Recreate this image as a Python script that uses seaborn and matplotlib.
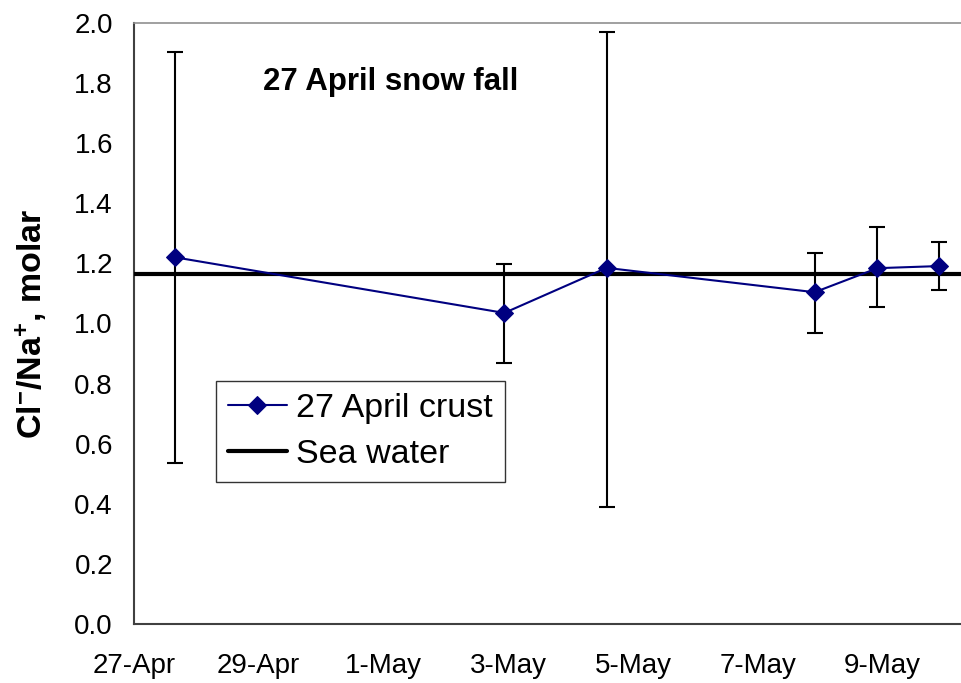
import numpy as np
import pandas as pd
import seaborn as sns
import matplotlib.pyplot as plt
import matplotlib.dates as mdates
from matplotlib.ticker import FuncFormatter

# sample times and Cl-/Na+ ratios
sample_times = ["2000-04-27 16:00", "2000-05-02 22:30", "2000-05-04 13:50",
                "2000-05-07 21:50", "2000-05-08 22:00", "2000-05-09 21:40"]
ratio = [1.22, 1.035, 1.185, 1.104, 1.184, 1.191]
err_upper = [1.903, 1.198, 1.971, 1.235, 1.320, 1.270]
err_lower = [0.535, 0.868, 0.390, 0.968, 1.054, 1.112]
sea_water = 1.165

tick_dates = pd.date_range("2000-04-27", "2000-05-09", freq="2D")
x_start = pd.Timestamp("2000-04-27")
x_end = pd.Timestamp("2000-05-10 06:30")

df = pd.DataFrame({"time": pd.to_datetime(sample_times), "ratio": ratio})
yerr = np.array([np.array(ratio) - np.array(err_lower),
                 np.array(err_upper) - np.array(ratio)])

sns.set_style("white")
plt.rcParams["font.family"] = ["Liberation Sans", "DejaVu Sans"]
plt.rcParams["text.color"] = "black"
plt.rcParams["axes.labelcolor"] = "black"
plt.rcParams["mathtext.fontset"] = "custom"
plt.rcParams["mathtext.rm"] = "Liberation Sans"
plt.rcParams["mathtext.bf"] = "Liberation Sans:bold"
plt.rcParams["mathtext.default"] = "bf"

fig = plt.figure(figsize=(9.62, 6.83), dpi=100)
ax = fig.add_axes([0.139, 0.0864, 0.861, 0.88])

ax.errorbar(df["time"], df["ratio"], yerr=yerr, fmt="none", ecolor="black",
            elinewidth=1.5, capsize=6, capthick=1.5, zorder=2)
sns.lineplot(data=df, x="time", y="ratio", ax=ax, color="#000080", lw=1.5,
             marker="D", markersize=9, markeredgecolor="#000080",
             label="27 April crust", zorder=4)
ax.axhline(sea_water, color="black", lw=3, label="Sea water", zorder=3)

ax.set_xlim(x_start, x_end)
ax.set_ylim(0, 2.0)
ax.set_yticks(np.arange(0, 2.01, 0.2))
ax.yaxis.set_major_formatter(FuncFormatter(lambda v, p: f"{v:.1f}"))
ax.set_xticks(tick_dates)
ax.xaxis.set_major_formatter(
    FuncFormatter(lambda v, p: f"{mdates.num2date(v).day}-{mdates.num2date(v):%b}"))

ax.tick_params(axis="both", direction="out", length=6, width=1.2,
               color="#404040", labelsize=20, labelcolor="black")
ax.tick_params(axis="y", pad=9)
ax.tick_params(axis="x", pad=15)
ax.set_xlabel("")
ax.set_ylabel("Cl$^{-}$/Na$^{+}$, molar", fontsize=24.5, fontweight="bold",
              color="black")
ax.yaxis.set_label_coords(-0.102, 0.5)

ax.spines["left"].set_color("#404040")
ax.spines["left"].set_linewidth(1.5)
ax.spines["bottom"].set_color("#404040")
ax.spines["bottom"].set_linewidth(1.5)
ax.spines["top"].set_color("#909090")
ax.spines["top"].set_linewidth(1.2)
ax.spines["right"].set_visible(False)

ax.text(0.31, 0.902, "27 April snow fall", transform=ax.transAxes,
        ha="center", va="center", fontsize=22.5, fontweight="bold",
        color="black")

leg = ax.legend(loc="lower left", bbox_to_anchor=(0.099, 0.236),
                borderaxespad=0, fontsize=24.5, frameon=True, fancybox=False,
                handlelength=1.75, handletextpad=0.27, borderpad=0.35,
                labelspacing=0.45)
leg.get_frame().set_edgecolor("black")
leg.get_frame().set_linewidth(1.0)
for t in leg.get_texts():
    t.set_color("black")

fig.savefig("out.png", dpi=100)
